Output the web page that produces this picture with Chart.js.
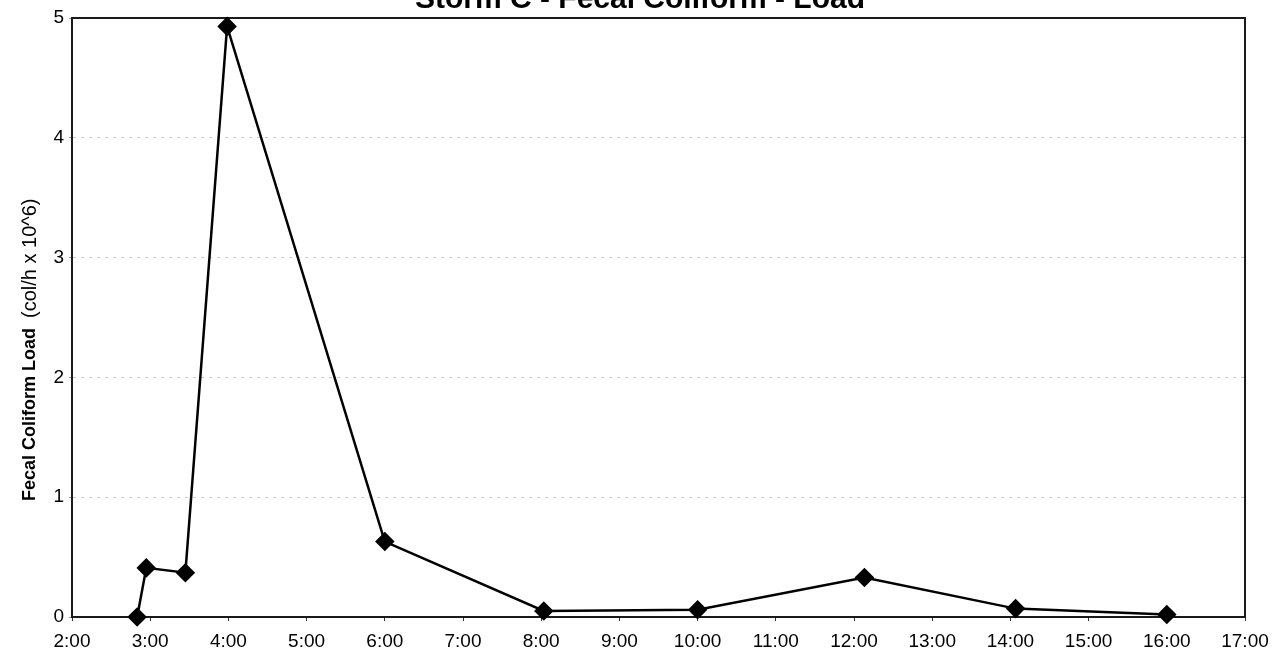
<!DOCTYPE html>
<html>
<head>
<meta charset="utf-8">
<script src="https://cdn.jsdelivr.net/npm/chart.js@4"></script>
<style>
  html, body { margin: 0; padding: 0; background: #fff; }
  #chartCarga { display: block; }
</style>
</head>
<body>
<canvas id="chartCarga" width="1279" height="668"></canvas>
<script>
// sample times (h:mm) and load (col/h x 10^6)
const horas = ["2:50", "2:57", "3:27", "3:59", "6:00", "8:02", "10:00", "12:08", "14:04", "16:00"];
const carga = [0, 0.41, 0.37, 4.93, 0.63, 0.05, 0.06, 0.33, 0.07, 0.02];
const ejeX = [2, 17];
const ejeY = [0, 5];

function aHoras(txt) {
  const p = txt.split(":");
  return Number(p[0]) + Number(p[1]) / 60;
}

const puntos = horas.map((h, i) => ({ x: aHoras(h), y: carga[i] }));

const marco = {
  id: 'marco',
  beforeDatasetsDraw(chart) {
    const a = chart.chartArea;
    const ctx = chart.ctx;
    ctx.save();
    ctx.strokeStyle = '#1a1a1a';
    ctx.lineWidth = 2;
    ctx.strokeRect(a.left, a.top, a.right - a.left, a.bottom - a.top);
    ctx.restore();
  },
  afterDraw(chart) {
    const ctx = chart.ctx;
    ctx.save();
    ctx.fillStyle = '#000';
    ctx.font = 'bold 30px "Liberation Sans", Arial, sans-serif';
    ctx.textAlign = 'center';
    ctx.textBaseline = 'alphabetic';
    ctx.fillText('Storm C - Fecal Coliform - Load', 640, 8);

    // y title: bold name + normal units
    ctx.translate(30, 501);
    ctx.rotate(-Math.PI / 2);
    ctx.textAlign = 'left';
    ctx.textBaseline = 'middle';
    ctx.font = 'bold 18px "Liberation Sans", Arial, sans-serif';
    const parte1 = 'Fecal Coliform Load';
    ctx.fillText(parte1, 0, 0);
    const w = ctx.measureText(parte1 + '  ').width;
    ctx.font = '20px "Liberation Sans", Arial, sans-serif';
    ctx.fillText('(col/h x 10^6)', w, 0);
    ctx.restore();
  }
};

const ctx = document.getElementById("chartCarga").getContext("2d");
new Chart(ctx, {
  type: 'line',
  data: {
    datasets: [{
      label: 'Fecal Coliform Load',
      data: puntos,
      borderColor: '#000',
      backgroundColor: '#000',
      borderWidth: 2.5,
      pointStyle: 'rectRot',
      pointRadius: 8,
      pointHoverRadius: 8,
      tension: 0,
      clip: false
    }]
  },
  options: {
    responsive: false,
    animation: false,
    events: [],
    layout: { padding: { top: 18, right: 34, left: 0, bottom: 0 } },
    plugins: {
      legend: { display: false },
      tooltip: { enabled: false }
    },
    scales: {
      x: {
        type: 'linear',
        min: ejeX[0],
        max: ejeX[1],
        afterFit: s => { s.height = 51; },
        ticks: {
          stepSize: 1,
          color: '#000',
          padding: 9,
          maxRotation: 0,
          font: { family: '"Liberation Sans", Arial, sans-serif', size: 19 },
          callback: v => v + ':00'
        },
        grid: { drawOnChartArea: false, color: '#333', tickLength: 4 },
        border: { color: '#1a1a1a', width: 2 }
      },
      y: {
        min: ejeY[0],
        max: ejeY[1],
        afterFit: s => { s.width = 72; },
        ticks: {
          stepSize: 1,
          color: '#000',
          padding: 5,
          font: { family: '"Liberation Sans", Arial, sans-serif', size: 19 }
        },
        grid: {
          color: c => (c.tick.value === 0 || c.tick.value === 5) ? 'rgba(0,0,0,0)' : '#c8c8c8',
          lineWidth: 1,
          tickLength: 3,
          tickColor: '#999'
        },
        border: { color: '#1a1a1a', width: 2, dash: [3, 5] }
      }
    }
  },
  plugins: [marco]
});
</script>
</body>
</html>
